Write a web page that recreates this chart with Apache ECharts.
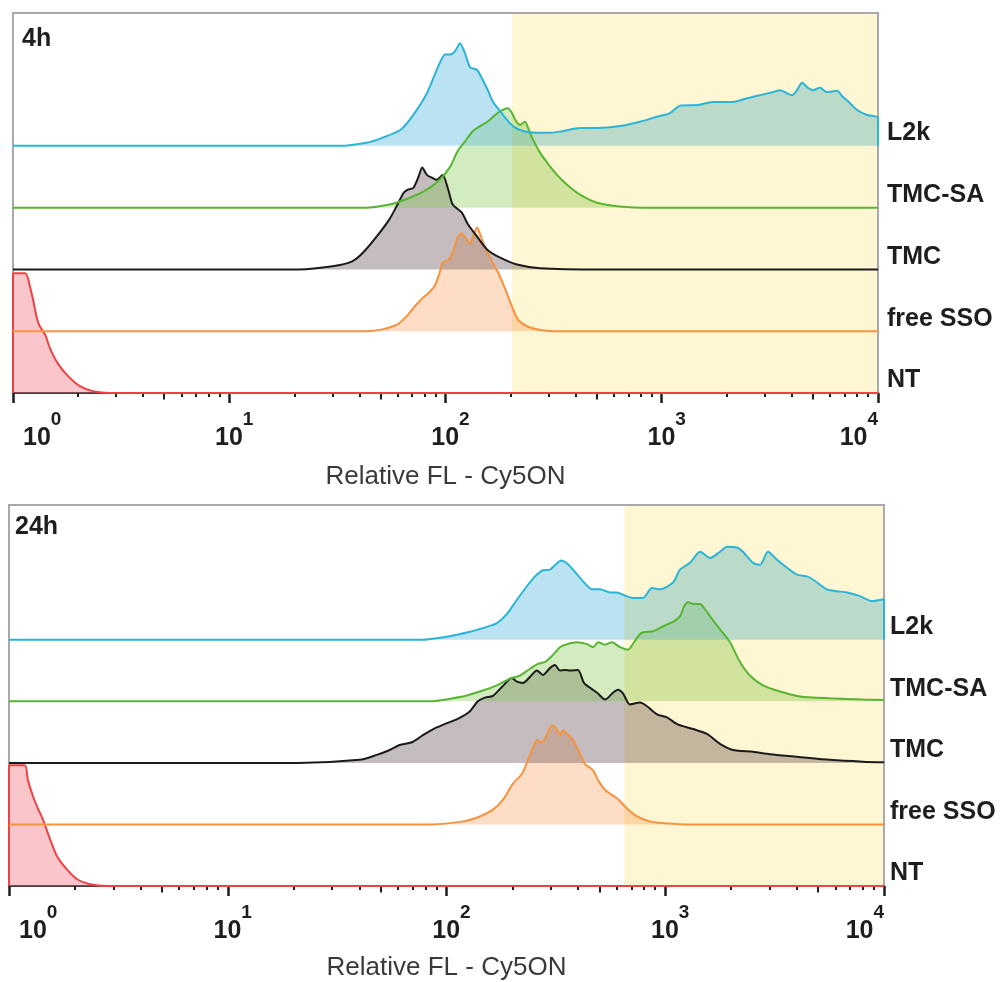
<!DOCTYPE html>
<html><head><meta charset="utf-8">
<script src="https://cdn.jsdelivr.net/npm/echarts@6/dist/echarts.min.js"></script>
<style>html,body{margin:0;padding:0;background:#fff}#c{width:1006px;height:982px}</style>
</head><body><div id="c"></div>
<script>
// ---- labels / ticks ----
const trackNames = ['NT', 'free SSO', 'TMC', 'TMC-SA', 'L2k'];
const panelTitles = ['4h', '24h'];
const axisTitle = 'Relative FL - Cy5ON';
const minorTicks = [2,3,4,6,7,8,9,20,30,40,60,70,80,90,200,300,400,600,700,800,900,2000,3000,4000,6000,7000,8000,9000];
const midTicks = [5,50,500,5000];
const gateStart = [203, 650];   // positive gate lower bound (upper bound = 10^4)

// ---- histograms: [fluorescence, height in % of track spacing] ----
// 4h
const nt4h = [[1,0],[1,194],[1.14,194],[1.20,171],[1.24,150],[1.29,121],[1.33,108],[1.41,94],[1.48,73],[1.61,48],[1.78,29],[2.04,11],[2.34,3],[2.81,0],[10000,0]];
const sso4h = [[1,0],[43,0],[51,3],[60,11],[66,24],[72,40],[78,53],[83,61],[89,73],[94,95],[97,111],[103,115],[108,127],[114,153],[119,158],[123,152],[130,142],[134,153],[140,168],[145,156],[152,137],[164,113],[175,95],[189,68],[203,40],[216,19],[238,8],[274,2],[338,0],[10000,0]];
const tmc4h = [[1,0],[21,0],[30,5],[37,13],[41.5,27],[48,53],[55,81],[60,105],[64,124],[67,129],[71,132],[75,150],[78,165],[82,153],[87,148],[91,145],[97,153],[103,129],[108,105],[119,92],[127,73],[140,53],[156,32],[179,19],[214,8],[274,2],[518,0],[10000,0]];
const sa4h = [[1,0],[43,0],[55,5],[68.5,16],[82,29],[94,45],[105,66],[114,92],[123,107],[134,124],[144.5,132],[156,139],[166,147],[179,156],[194.5,161],[203,153],[212,140],[221,134],[233,139],[241,129],[254,110],[273.5,89],[295,73],[328,53],[365,37],[419,21],[502,8],[641,2],[883,0],[10000,0]];
const l2k4h = [[1,0],[32.5,0],[43,5],[51,13],[62,26],[71,50],[82,85],[94,134],[99.5,148],[105,148],[110.6,153],[116.7,166],[123,150],[130,127],[140,123],[144.5,115],[156,92],[166,71],[179,56],[192.5,42],[205,32],[228,24],[265,21],[295,21],[338,23],[419,29],[502,29],[641,32],[793,39],[950,47],[1092,53],[1214,65],[1455,66],[1726,71],[2136,71],[2479,77],[2846,82],[3268,87],[3521,90],[4002,82],[4220,90],[4453,102],[4748,94],[5003,90],[5393,94],[5808,87],[6461,89],[6889,79],[7431,69],[8003,58],[8898,50],[10000,45],[10000,0]];
// 24h
const nt24h = [[1,0],[1,196],[1.18,196],[1.22,172],[1.29,145],[1.36,125],[1.43,108],[1.54,76],[1.66,48],[1.84,27],[2.05,11],[2.35,3],[2.81,0],[10000,0]];
const sso24h = [[1,0],[84,0],[119,5],[142,13],[163,24],[181,40],[201,66],[221,82],[236,105],[249,125],[259,137],[273,133],[288,146],[304,161],[320,154],[330,145],[341,153],[359,146],[379,137],[408,114],[430,98],[468,88],[493,72],[531,56],[603,42],[669,26],[743,13],[851,5],[997,2],[1298,0],[10000,0]];
const tmc24h = [[1,0],[21,0],[40,5],[48,13],[55,21],[61,29],[70,34],[78,45],[87,55],[98,63],[113,72],[128,84],[139,100],[150,106],[163,109],[181,125],[199,138],[210,132],[224,130],[241,140],[259,150],[276,143],[297,154],[313,159],[330,150],[348,151],[367,150],[399,151],[425,130],[453,122],[488,114],[531,103],[577,114],[608,119],[641,113],[690,95],[767,98],[826,92],[917,79],[1019,74],[1132,63],[1340,55],[1552,47],[1780,31],[2042,21],[2520,18],[3013,14],[4002,10],[5666,5],[8017,2],[10000,1]];
const sa24h = [[1,0],[84,0],[119,8],[142,16],[170,26],[195,37],[217,42],[241,53],[262,61],[282,64],[304,74],[330,88],[356,93],[395,96],[439,93],[468,88],[493,96],[531,92],[571,96],[621,88],[676,84],[720,96],[775,111],[879,114],[977,122],[1085,129],[1168,138],[1218,154],[1271,161],[1353,158],[1442,158],[1518,150],[1603,138],[1780,117],[1977,96],[2196,64],[2438,42],[2799,26],[3347,16],[4128,8],[5666,5],[8017,3],[10000,2]];
const l2k24h = [[1,0],[76,0],[100.5,5],[128,13],[153,21],[170,27],[189,42],[206,61],[233,87],[254,103],[276,113],[297,114],[313,121],[334,129],[356,124],[379,114],[421,95],[463,82],[503,82],[559,77],[602,77],[654,72],[713,68],[791,68],[869,84],[946,82],[1085,93],[1168,114],[1298,125],[1442,143],[1603,133],[1780,143],[1916,151],[2128,150],[2266,143],[2520,125],[2713,122],[2948,143],[3243,130],[3603,117],[4002,106],[4447,103],[4733,98],[5484,82],[6095,79],[6776,77],[7766,71],[8812,63],[10000,66],[10000,0]];

const panels = [
  [nt4h, sso4h, tmc4h, sa4h, l2k4h],
  [nt24h, sso24h, tmc24h, sa24h, l2k24h]
];

// ---- styling ----
const F = "'Liberation Sans', Arial, Helvetica, sans-serif";
const W = 1006;
const lineColors = ['#EE4245', '#F7923F', '#1b1b1b', '#58B531', '#2BB4D8'];
const fillRGBA = [[240,95,110,0.36], [250,160,95,0.36], [115,95,100,0.42], [130,200,80,0.36], [100,190,225,0.44]];
const gateRGB = [255, 246, 212];
const gridBoxes = [
  {left: 13, top: 13, width: 865, height: 380},
  {left: 9, top: 505, width: 875, height: 385}
];
const yMax = [615, 619];
const yLabelMargin = [9, 6];
const nameGaps = [71, 69];

const rgba = c => 'rgba(' + c[0] + ',' + c[1] + ',' + c[2] + ',' + c[3] + ')';
const mult = c => [Math.round(c[0] * gateRGB[0] / 255), Math.round(c[1] * gateRGB[1] / 255), Math.round(c[2] * gateRGB[2] / 255), c[3]];

function fillFor(i, gatePx) {
  if (gatePx == null) return rgba(fillRGBA[i]);
  const t = Math.min(Math.max(gatePx / W, 0), 1);
  const a = rgba(fillRGBA[i]), b = rgba(mult(fillRGBA[i]));
  return {type: 'linear', x: 0, y: 0, x2: W, y2: 0, global: true,
    colorStops: [{offset: 0, color: a}, {offset: t, color: a}, {offset: t, color: b}, {offset: 1, color: b}]};
}

function buildOption(gatePxs) {
  const grid = gridBoxes.map(g => Object.assign({show: true, borderColor: '#a9a9a9', borderWidth: 2, backgroundColor: 'transparent', containLabel: false}, g));
  const xAxis = [], yAxis = [], series = [];
  panels.forEach((curves, p) => {
    const base = {type: 'log', logBase: 10, min: 1, max: 10000, gridIndex: p, position: 'bottom', splitLine: {show: false}};
    xAxis.push(Object.assign({}, base, {
      axisLine: {show: true, lineStyle: {color: '#1e1e1e', width: 1.5}},
      axisTick: {show: true, length: 10, lineStyle: {color: '#1e1e1e', width: 2.5}},
      axisLabel: {
        show: true, margin: 17, alignMinLabel: 'left', alignMaxLabel: 'right',
        formatter: v => '{b|10}{s|' + Math.round(Math.log10(v)) + '}',
        rich: {
          b: {fontSize: 25, fontWeight: 'bold', fontFamily: F, color: '#1e1e1e', lineHeight: 41, verticalAlign: 'bottom', padding: [0, 0, 0, 10]},
          s: {fontSize: 19, fontWeight: 'bold', fontFamily: F, color: '#1e1e1e', lineHeight: 19, verticalAlign: 'top'}
        }
      },
      name: axisTitle, nameLocation: 'middle', nameGap: nameGaps[p],
      nameTextStyle: {fontSize: 26, fontFamily: F, color: '#3a3a3a'}
    }));
    xAxis.push(Object.assign({}, base, {
      axisLine: {show: false}, axisLabel: {show: false},
      axisTick: {show: true, customValues: minorTicks, length: 4, lineStyle: {color: '#1e1e1e', width: 2}}
    }));
    xAxis.push(Object.assign({}, base, {
      axisLine: {show: false}, axisLabel: {show: false},
      axisTick: {show: true, customValues: midTicks, length: 6.5, lineStyle: {color: '#1e1e1e', width: 2}}
    }));
    yAxis.push({
      type: 'value', gridIndex: p, min: 0, max: yMax[p], interval: 100, position: 'right',
      axisLine: {show: false}, axisTick: {show: false}, splitLine: {show: false},
      axisLabel: {
        show: true, margin: yLabelMargin[p], verticalAlign: 'bottom',
        formatter: v => trackNames[Math.round(v / 100)] || '',
        fontSize: 25, fontWeight: 'bold', fontFamily: F, color: '#1e1e1e'
      }
    });
    // gate (yellow band) under the histograms
    series.push({
      type: 'custom', xAxisIndex: p * 3, yAxisIndex: p, silent: true, z: 1,
      encode: {x: [0, 1]},
      data: [[gateStart[p], 10000]],
      renderItem: (params, api) => {
        const a = api.coord([api.value(0), yMax[p]]);
        const b = api.coord([api.value(1), 0]);
        return {type: 'rect', shape: {x: a[0], y: a[1] + 1, width: b[0] - a[0] - 1, height: b[1] - a[1] - 1},
                style: {fill: 'rgb(' + gateRGB.join(',') + ')'}};
      }
    });
    curves.forEach((data, i) => {
      const off = i * 100;
      series.push({
        name: trackNames[i] + ' ' + panelTitles[p],
        type: 'line', xAxisIndex: p * 3, yAxisIndex: p,
        data: data.map(d => [d[0], d[1] + off]),
        symbol: 'none', smooth: 0.25, silent: true, z: 3,
        lineStyle: {color: lineColors[i], width: 2},
        areaStyle: {color: fillFor(i, gatePxs ? gatePxs[p] : null), origin: off, opacity: 1}
      });
    });
  });
  return {
    backgroundColor: '#ffffff',
    animation: false,
    textStyle: {fontFamily: F},
    title: [
      {text: panelTitles[0], left: 22, top: 27, padding: 0, textStyle: {fontSize: 25, fontWeight: 'bold', color: '#1e1e1e', fontFamily: F}},
      {text: panelTitles[1], left: 15, top: 515, padding: 0, textStyle: {fontSize: 25, fontWeight: 'bold', color: '#1e1e1e', fontFamily: F}}
    ],
    grid, xAxis, yAxis, series
  };
}

const chart = echarts.init(document.getElementById('c'), null, {renderer: 'canvas'});
chart.setOption(buildOption(null));
const gatePxs = gateStart.map((g, p) => chart.convertToPixel({xAxisIndex: p * 3}, g));
chart.setOption(buildOption(gatePxs), true);
</script>
</body></html>
